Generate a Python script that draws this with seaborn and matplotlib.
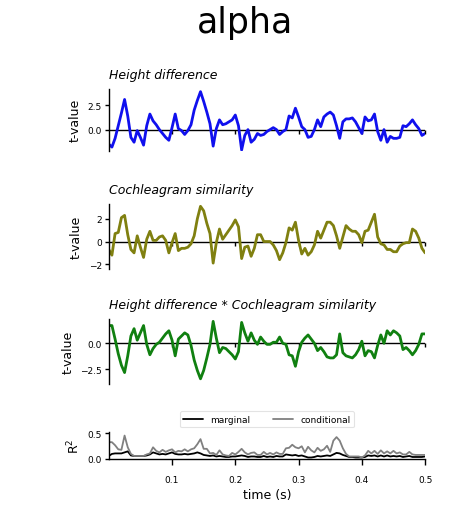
import numpy as np
import pandas as pd
import matplotlib
matplotlib.use("Agg")
import matplotlib.pyplot as plt
import seaborn as sns

# time grid (s)
time = np.round(np.arange(101) * 0.005, 4)

height_diff = [
    -1.5, -1.8, -0.9, 0.4, 1.7, 3.1, 1.4, -0.8, -1.3, -0.1,
    -0.8, -1.6, 0.4, 1.6, 0.9, 0.5, 0.0, -0.4, -0.8, -1.1,
    0.2, 1.6, 0.1, -0.1, -0.5, -0.1, 0.5, 2.0, 3.0, 3.9,
    2.9, 1.8, 0.6, -1.7, 0.1, 1.0, 0.5, 0.6, 0.8, 1.0,
    1.5, 0.4, -2.1, -0.6, 0.0, -1.3, -1.0, -0.4, -0.6, -0.5,
    -0.2, 0.0, 0.2, 0.0, -0.5, -0.2, 0.0, 1.4, 1.2, 2.2,
    1.3, 0.3, 0.0, -0.8, -0.7, 0.0, 1.0, 0.3, 1.3, 1.6,
    1.8, 1.5, 0.4, -0.9, 0.8, 1.1, 1.1, 1.2, 0.8, 0.2,
    -0.4, 1.3, 0.9, 1.0, 1.6, -0.2, -1.1, 0.0, -1.3, -0.7,
    -0.9, -0.9, -0.8, 0.4, 0.3, 0.6, 1.0, 0.5, 0.1, -0.6,
    -0.4,
]

cochlea_sim = [
    -0.7, -1.2, 0.7, 0.8, 2.1, 2.3, 0.6, -0.7, -1.0, 0.5,
    -0.5, -1.4, 0.2, 0.9, 0.1, 0.1, 0.4, 0.5, 0.1, -1.0,
    -0.1, 0.7, -0.8, -0.6, -0.6, -0.5, -0.2, 0.5, 2.0, 3.1,
    2.7, 1.6, 0.7, -1.9, -0.1, 1.1, 0.2, 0.6, 1.0, 1.4,
    1.9, 1.3, -1.5, -0.5, -0.4, -1.3, -0.6, 0.6, 0.6, 0.0,
    0.0, 0.0, -0.3, -0.8, -1.6, -1.0, -0.1, 1.2, 1.0, 1.7,
    0.1, -1.1, -0.6, -1.2, -0.9, -0.3, 0.9, 0.3, 1.0, 1.7,
    1.7, 1.4, 0.5, -0.6, 0.4, 1.4, 1.1, 0.9, 0.9, 0.6,
    -0.1, 0.9, 1.0, 1.7, 2.4, 0.4, -0.2, -0.3, -0.7, -0.7,
    -0.9, -0.9, -0.4, -0.2, -0.1, -0.1, 1.1, 0.9, 0.3, -0.6,
    -1.0,
]

interaction = [
    1.7, 1.7, 0.4, -1.0, -2.1, -2.8, -1.2, 0.7, 1.4, 0.3,
    1.0, 1.7, -0.1, -1.1, -0.5, -0.1, 0.1, 0.5, 0.9, 1.2,
    0.3, -1.2, 0.4, 0.7, 1.0, 0.8, -0.2, -1.6, -2.6, -3.4,
    -2.6, -1.4, -0.1, 2.1, 0.5, -0.9, -0.4, -0.5, -0.8, -1.1,
    -1.5, -0.8, 2.0, 1.0, 0.2, 1.0, 0.3, -0.1, 0.6, 0.2,
    -0.1, -0.1, 0.1, 0.1, 0.6, 0.0, -0.1, -1.1, -1.2, -2.2,
    -0.8, 0.1, 0.5, 0.8, 0.4, 0.0, -0.7, -0.4, -0.8, -1.3,
    -1.4, -1.4, -1.1, 0.9, -0.9, -1.2, -1.3, -1.4, -1.1, -0.6,
    0.2, -1.2, -0.7, -0.8, -1.4, -0.2, 0.8, 0.0, 1.2, 0.8,
    1.2, 1.0, 0.7, -0.6, -0.4, -0.7, -1.1, -0.7, -0.1, 0.9,
    0.9,
]

r2_marginal = [
    0.05, 0.09, 0.10, 0.10, 0.10, 0.12, 0.14, 0.06, 0.05, 0.05,
    0.05, 0.05, 0.06, 0.08, 0.12, 0.10, 0.08, 0.09, 0.08, 0.10,
    0.12, 0.09, 0.08, 0.08, 0.09, 0.08, 0.09, 0.10, 0.12, 0.10,
    0.07, 0.06, 0.05, 0.06, 0.04, 0.05, 0.04, 0.03, 0.03, 0.04,
    0.04, 0.05, 0.06, 0.05, 0.03, 0.04, 0.04, 0.03, 0.03, 0.05,
    0.03, 0.04, 0.03, 0.05, 0.04, 0.04, 0.08, 0.07, 0.06, 0.07,
    0.05, 0.06, 0.04, 0.02, 0.02, 0.03, 0.05, 0.04, 0.05, 0.06,
    0.05, 0.08, 0.11, 0.10, 0.07, 0.05, 0.03, 0.03, 0.02, 0.02,
    0.02, 0.03, 0.06, 0.05, 0.06, 0.04, 0.06, 0.04, 0.06, 0.04,
    0.05, 0.04, 0.05, 0.03, 0.04, 0.05, 0.03, 0.03, 0.03, 0.03,
    0.04,
]

r2_conditional = [
    0.32, 0.32, 0.26, 0.18, 0.17, 0.45, 0.22, 0.09, 0.05, 0.05,
    0.05, 0.05, 0.08, 0.10, 0.22, 0.15, 0.12, 0.17, 0.13, 0.16,
    0.18, 0.12, 0.15, 0.14, 0.18, 0.14, 0.18, 0.20, 0.28, 0.38,
    0.19, 0.19, 0.10, 0.11, 0.07, 0.16, 0.08, 0.06, 0.05, 0.11,
    0.08, 0.13, 0.19, 0.12, 0.08, 0.11, 0.12, 0.07, 0.07, 0.13,
    0.08, 0.11, 0.08, 0.12, 0.09, 0.09, 0.20, 0.21, 0.27, 0.22,
    0.20, 0.24, 0.12, 0.23, 0.16, 0.12, 0.21, 0.15, 0.18, 0.25,
    0.13, 0.35, 0.42, 0.35, 0.20, 0.09, 0.04, 0.04, 0.04, 0.04,
    0.02, 0.06, 0.15, 0.10, 0.15, 0.09, 0.16, 0.10, 0.14, 0.10,
    0.15, 0.10, 0.12, 0.08, 0.08, 0.13, 0.08, 0.07, 0.07, 0.07,
    0.07,
]

panel_titles = ["Height difference", "Cochleagram similarity",
                "Height difference * Cochleagram similarity"]
panel_colors = ["#1010ee", "#808010", "#108010"]
panel_yticks = [[0.0, 2.5], [-2, 0, 2], [-2.5, 0.0]]
panel_yticklabels = [["0.0", "2.5"], ["\u22122", "0", "2"], ["\u22122.5", "0.0"]]
panel_ylims = [(-2.2, 4.2), (-2.4, 3.3), (-3.9, 2.3)]
xticks = [0.1, 0.2, 0.3, 0.4, 0.5]

sns.set_theme(style="ticks")
plt.rcParams["font.family"] = ["DejaVu Sans"]
plt.rcParams["text.color"] = "black"
plt.rcParams["axes.labelcolor"] = "black"
plt.rcParams["xtick.color"] = "black"
plt.rcParams["ytick.color"] = "black"

fig = plt.figure(figsize=(4.5, 5.1), dpi=100)
fig.text(0.545, 0.955, "alpha", ha="center", va="center", fontsize=25)

left, width = 0.2417, 0.703
panel_boxes = [(0.702, 0.122), (0.471, 0.127), (0.245, 0.127)]

series = [height_diff, cochlea_sim, interaction]
for k in range(3):
    b, h = panel_boxes[k]
    ax = fig.add_axes([left, b, width, h])
    df = pd.DataFrame({"time": time, "t": series[k]})
    sns.lineplot(data=df, x="time", y="t", ax=ax, color=panel_colors[k],
                 linewidth=2.0)
    ax.axhline(0, color="black", linewidth=1.0, zorder=1)
    ax.set_xlim(0, 0.5)
    ax.set_ylim(*panel_ylims[k])
    ax.set_yticks(panel_yticks[k])
    ax.set_yticklabels(panel_yticklabels[k])
    ax.set_xticks(xticks)
    ax.set_xticklabels([])
    ax.spines["bottom"].set_position(("data", 0))
    ax.spines["bottom"].set_visible(False)
    ax.spines["top"].set_visible(False)
    ax.spines["right"].set_visible(False)
    ax.spines["left"].set_linewidth(1.0)
    ax.spines["left"].set_color("black")
    ax.tick_params(axis="x", length=3, width=1, color="black")
    ax.tick_params(axis="y", labelsize=6.5, length=3, width=1, pad=2, color="black")
    ax.set_xlabel("")
    ax.set_ylabel("t-value", fontsize=9, labelpad=4)
    ax.set_title(panel_titles[k], loc="left", fontsize=9, style="italic", pad=8)

# R^2 panel
ax = fig.add_axes([left, 0.098, width, 0.053])
df_r = pd.DataFrame({
    "time": np.concatenate([time, time]),
    "R2": np.concatenate([r2_marginal, r2_conditional]),
    "kind": ["marginal"] * len(time) + ["conditional"] * len(time),
})
sns.lineplot(data=df_r, x="time", y="R2", hue="kind",
             palette={"marginal": "black", "conditional": "gray"},
             linewidth=1.3, ax=ax)
ax.set_xlim(0, 0.5)
ax.set_ylim(-0.01, 0.52)
ax.set_yticks([0.0, 0.5])
ax.set_yticklabels(["0.0", "0.5"])
ax.set_xticks(xticks)
ax.set_xticklabels(["0.1", "0.2", "0.3", "0.4", "0.5"])
ax.spines["bottom"].set_position(("data", 0))
ax.spines["top"].set_visible(False)
ax.spines["right"].set_visible(False)
for s in ("left", "bottom"):
    ax.spines[s].set_linewidth(1.0)
    ax.spines[s].set_color("black")
ax.tick_params(axis="y", labelsize=6.5, length=3, width=1, pad=2, color="black")
ax.tick_params(axis="x", labelsize=6.5, length=4, width=1, pad=8, color="black")
ax.set_xlabel("time (s)", fontsize=9, labelpad=3)
ax.set_ylabel("R$^2$", fontsize=9, labelpad=4)
leg = ax.legend(loc="lower center", bbox_to_anchor=(0.5, 1.0), ncol=2,
                fontsize=6.5, frameon=True, handlelength=2.2, columnspacing=2.5,
                borderpad=0.4)
leg.get_frame().set_edgecolor("#dddddd")
leg.get_frame().set_linewidth(0.8)

fig.savefig("out.png", dpi=100)
